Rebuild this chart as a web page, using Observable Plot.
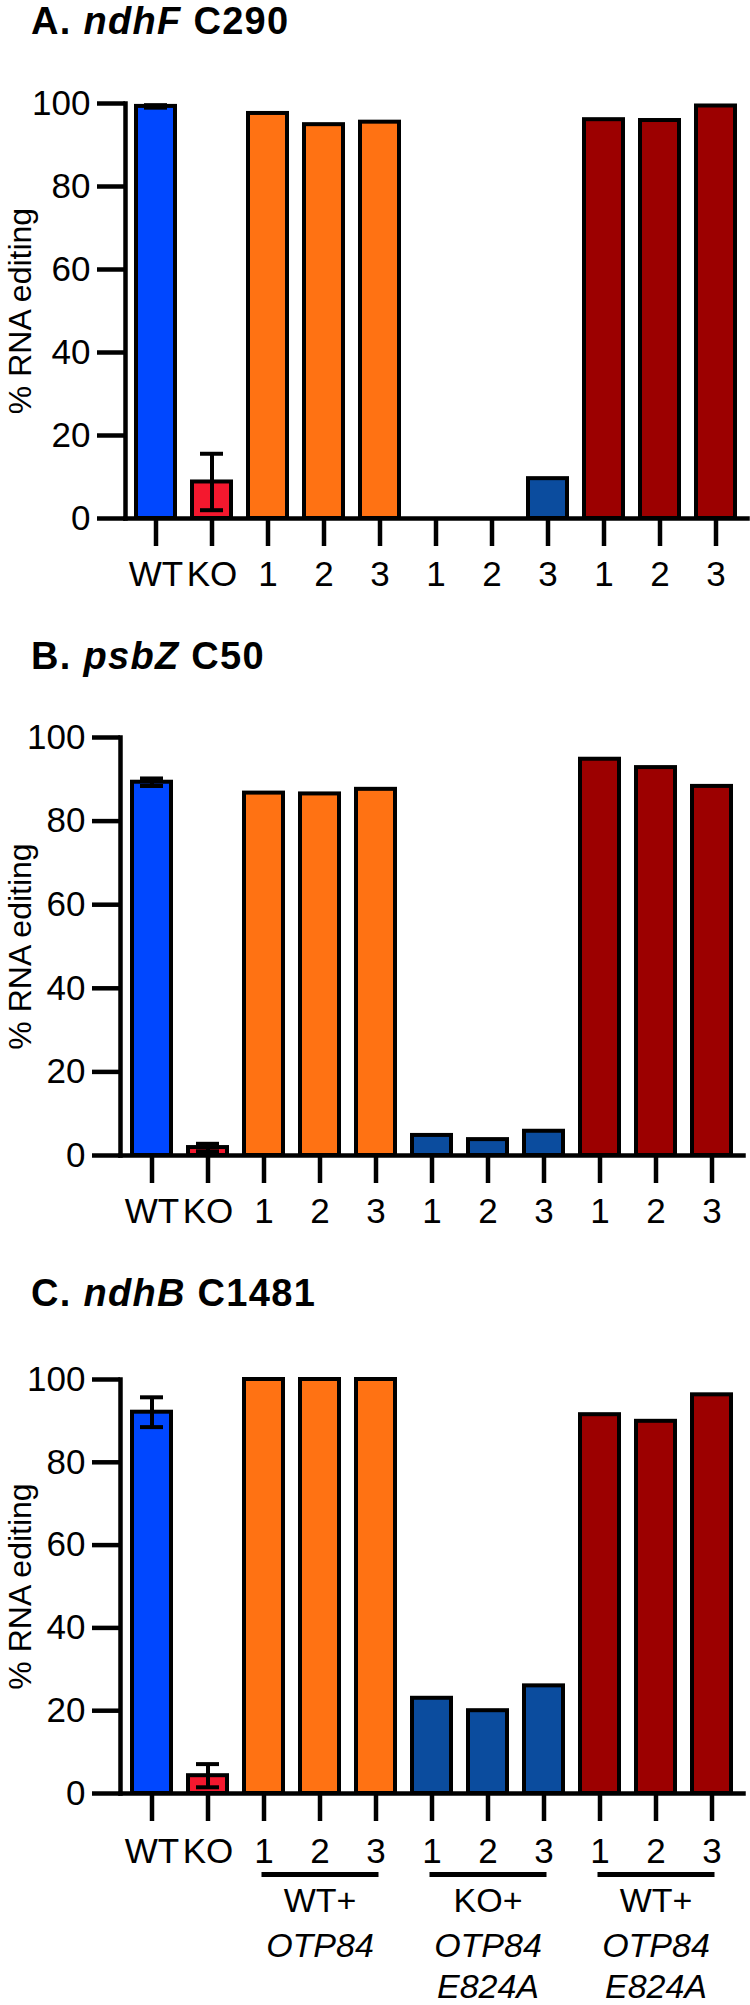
<!DOCTYPE html>
<html><head><meta charset="utf-8">
<script src="https://cdn.jsdelivr.net/npm/d3@7"></script>
<script src="https://cdn.jsdelivr.net/npm/@observablehq/plot@0.6"></script>
<style>
html,body{margin:0;padding:0;background:#fff;}
#root{position:relative;width:750px;height:2005px;overflow:hidden;font-family:"Liberation Sans",Arial,sans-serif;color:#000;}
.title{position:absolute;left:31px;font-size:38px;font-weight:bold;line-height:38px;letter-spacing:1.3px;white-space:nowrap;}
.panel{position:absolute;left:0;}
</style></head><body><div id="root"></div>
<script>
// ---- data ----
const keys = ["WT","KO","a1","a2","a3","b1","b2","b3","c1","c2","c3"];
const tickLabels = ["WT","KO","1","2","3","1","2","3","1","2","3"];
const barColors = ["#0047FF","#F4182E","#FF7213","#FF7213","#FF7213","#0B4C9E","#0B4C9E","#0B4C9E","#9C0000","#9C0000","#9C0000"];
const yTicks = [0, 20, 40, 60, 80, 100];
const yLabel = "% RNA editing";

const ndhF = [99.3, 8.8, 97.6, 94.9, 95.5, 0, 0, 9.6, 96.1, 95.9, 99.4];
const psbZ = [89.3, 1.9, 86.7, 86.5, 87.6, 4.8, 3.8, 5.8, 94.8, 92.8, 88.3];
const ndhB = [92.1, 4.3, 100, 100, 100, 23, 20, 26, 91.5, 89.9, 96.3];

const errKeys = ["WT","KO"];
const ndhFErr = [0.3, 6.8];
const psbZErr = [0.9, 0.9];
const ndhBErr = [3.6, 2.8];

const titlePrefix = ["A. ", "B. ", "C. "];
const titleGene = ["ndhF", "psbZ", "ndhB"];
const titleSite = [" C290", " C50", " C1481"];

const groupFirst = ["a1","b1","c1"];
const groupMid = ["a2","b2","c2"];
const groupLast = ["a3","b3","c3"];
const groupLine1 = ["WT+","KO+","WT+"];
const groupLine2 = ["OTP84","OTP84\nE824A","OTP84\nE824A"];

// ---- layout ----
const panels = [
  {values: ndhF, errs: ndhFErr, titleTop: 2,    svgTop: 83,   plotH: 415, mL: 125, mR: 3, mB: 80,  pad: 15, groups: false},
  {values: psbZ, errs: psbZErr, titleTop: 637,  svgTop: 717,  plotH: 418, mL: 120, mR: 7, mB: 80,  pad: 15, groups: false},
  {values: ndhB, errs: ndhBErr, titleTop: 1274, svgTop: 1359, plotH: 414, mL: 120, mR: 7, mB: 212, pad: 17, groups: true}
];

const root = document.getElementById("root");
const font = "'Liberation Sans', Arial, sans-serif";

panels.forEach((p, i) => {
  const t = document.createElement("div");
  t.className = "title";
  t.style.top = p.titleTop + "px";
  t.append(document.createTextNode(titlePrefix[i]));
  const it = document.createElement("i");
  it.textContent = titleGene[i];
  t.append(it);
  t.append(document.createTextNode(titleSite[i]));
  root.append(t);

  const data = keys.map((k, j) => ({key: k, value: p.values[j], color: barColors[j]}));
  const errData = errKeys.map((k, j) => ({key: k, value: p.values[keys.indexOf(k)], err: p.errs[j]}));
  const groups = groupFirst.map((f, j) => ({first: f, mid: groupMid[j], last: groupLast[j], l1: groupLine1[j], l2: groupLine2[j]}));

  const marks = [
    Plot.barY(data, {x: "key", y: "value", fill: "color", stroke: "#000", strokeWidth: 4}),
    Plot.ruleX(errData, {x: "key", y1: d => d.value - d.err, y2: d => d.value + d.err, stroke: "#000", strokeWidth: 4}),
    Plot.tickY(errData, {x: "key", y: d => d.value + d.err, insetLeft: 8, insetRight: 8, stroke: "#000", strokeWidth: 4}),
    Plot.tickY(errData, {x: "key", y: d => d.value - d.err, insetLeft: 8, insetRight: 8, stroke: "#000", strokeWidth: 4}),
    Plot.axisY({ticks: yTicks, tickSize: 28, tickPadding: 7, label: null, strokeWidth: 4.5, fontSize: 35}),
    Plot.axisX({tickSize: 28, tickPadding: p.pad, label: null, strokeWidth: 4.5, fontSize: 35,
      tickFormat: d => tickLabels[keys.indexOf(d)]}),
    Plot.frame({anchor: "left", stroke: "#000", strokeWidth: 4.5, strokeLinecap: "square"}),
    Plot.frame({anchor: "bottom", stroke: "#000", strokeWidth: 4.5}),
    Plot.text([yLabel], {text: d => d, frameAnchor: "left", textAnchor: "middle", lineAnchor: "middle", dx: 20 - p.mL, rotate: -90, fontSize: 32})
  ];
  if (p.groups) {
    marks.push(
      Plot.link(groups, {x1: "first", x2: "last", y1: () => 0, y2: () => 0, dy: 81, stroke: "#000", strokeWidth: 5, strokeLinecap: "square"}),
      Plot.text(groups, {x: "mid", y: () => 0, text: "l1", dy: 94, lineAnchor: "top", fontSize: 34}),
      Plot.text(groups, {x: "mid", y: () => 0, text: "l2", dy: 135, lineAnchor: "top", fontSize: 34, fontStyle: "italic", lineHeight: 1.2})
    );
  }

  const chart = Plot.plot({
    width: 750,
    height: 20 + p.plotH + p.mB,
    marginTop: 20, marginBottom: p.mB, marginLeft: p.mL, marginRight: p.mR,
    style: {fontFamily: font, fontSize: "35px", color: "#000", background: "transparent", overflow: "visible"},
    x: {domain: keys, paddingInner: 0.295, paddingOuter: 0.14, axis: null},
    y: {domain: [0, 100], axis: null},
    color: {type: "identity"},
    marks
  });
  chart.classList.add("panel");
  chart.style.top = p.svgTop + "px";
  root.append(chart);
});
</script>
</body></html>
